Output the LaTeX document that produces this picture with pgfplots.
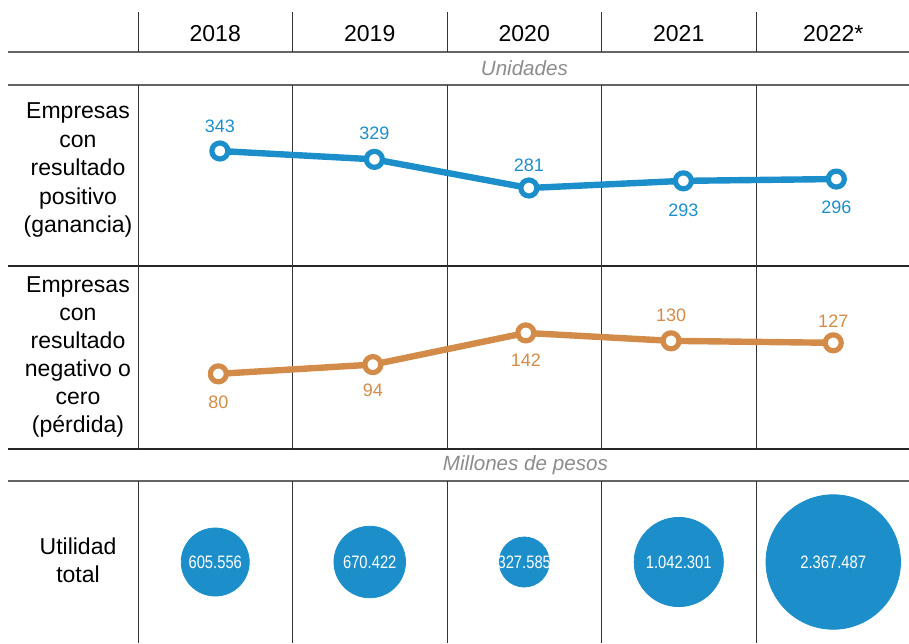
\documentclass[border=0pt]{standalone}
\usepackage{pgfplots}
\pgfplotsset{compat=1.18}
\usepackage{pgfplotstable}
\usepackage{fontspec}
\setmainfont{Liberation Sans}
\newfontfamily\narrowfont[FakeStretch=0.82]{Liberation Sans}
\definecolor{cblue}{RGB}{28,143,202}
\definecolor{corange}{RGB}{210,139,72}
\definecolor{cgray}{RGB}{140,140,140}
\definecolor{lgray}{RGB}{100,100,100}

\pgfplotstableread{
x y sh
0.03 343 12.5
1.03 329 13
2.03 281 11.5
3.03 293 -14.5
4.02 296 -14
}\postab

\pgfplotstableread{
x y sh
0.02 80 -14
1.02 94 -13
2.01 142 -13.5
2.95 130 13
4.00 127 11
}\negtab

\pgfplotstableread{
x y v lab
0 0.5 605.556 605.556
1 0.5 670.422 670.422
2 0.5 327.585 327.585
3 0.5 1042.301 1.042.301
4 0.5 2367.487 2.367.487
}\bubtab

\begin{document}
\begin{tikzpicture}
% ---- table grid ----
\draw[lgray, line width=0.75pt] (4pt,-26pt) -- (454.5pt,-26pt);
\draw[lgray, line width=0.6pt] (4pt,-42.5pt) -- (454.5pt,-42.5pt);
\draw[black!85, line width=0.6pt] (4pt,-133pt) -- (454.5pt,-133pt);
\draw[black!85, line width=0.6pt] (4pt,-224.5pt) -- (454.5pt,-224.5pt);
\draw[lgray, line width=0.6pt] (4pt,-240.5pt) -- (454.5pt,-240.5pt);
\foreach \xx in {69,146.25,223.5,300.75,378}{
  \draw[black!80, line width=0.5pt] (\xx pt,-6pt) -- (\xx pt,-26pt);
  \draw[black!80, line width=0.5pt] (\xx pt,-42.5pt) -- (\xx pt,-224.5pt);
  \draw[black!80, line width=0.5pt] (\xx pt,-240.5pt) -- (\xx pt,-321.5pt);
}
% ---- row texts ----
\node[text=cgray, font=\itshape\fontsize{10.3}{12}\selectfont] at (262.2pt,-34pt) {Unidades};
\node[text=cgray, font=\itshape\fontsize{10.3}{12}\selectfont] at (262.7pt,-232.5pt) {Millones de pesos};
\node[align=center, font=\fontsize{11.5}{14.25}\selectfont] at (39pt,-85pt) {Empresas\\con\\resultado\\positivo\\(ganancia)};
\node[align=center, font=\fontsize{11.5}{14}\selectfont] at (39pt,-178.5pt) {Empresas\\con\\resultado\\negativo o\\cero\\(pérdida)};
\node[align=center, font=\fontsize{11.5}{14}\selectfont] at (39pt,-280pt) {Utilidad\\total};

% ---- positive row ----
\begin{axis}[
  at={(69pt,-133pt)}, anchor=south west,
  scale only axis, width=386.25pt, height=90.5pt,
  xmin=-0.5, xmax=4.5, ymin=150.3, ymax=453.6,
  axis line style={draw=none}, major tick length=0pt,
  ytick=\empty,
  xtick={0,1,2,3,4}, xticklabels={2018,2019,2020,2021,{2022*}},
  xticklabel pos=upper,
  xticklabel style={anchor=center, yshift=25.5pt, font=\fontsize{11.5}{14}\selectfont},
  clip=false,
  /pgf/number format/assume math mode=true,
]
\addplot[cblue, line width=3.2pt, line join=round, mark=*, mark size=4pt,
  mark options={fill=white, draw=cblue, line width=2.6pt},
  nodes near coords,
  visualization depends on={\thisrow{sh} \as \sh},
  every node near coord/.append style={anchor=center, yshift=\sh pt, text=cblue, font=\fontsize{9}{10}\selectfont}]
  table[x=x, y=y]{\postab};
\end{axis}

% ---- negative row ----
\begin{axis}[
  at={(69pt,-224.5pt)}, anchor=south west,
  scale only axis, width=386.25pt, height=91.5pt,
  xmin=-0.5, xmax=4.5, ymin=-33.9, ymax=243.4,
  hide axis, clip=false,
  /pgf/number format/assume math mode=true,
]
\addplot[corange, line width=3.2pt, line join=round, mark=*, mark size=4pt,
  mark options={fill=white, draw=corange, line width=2.6pt},
  nodes near coords,
  visualization depends on={\thisrow{sh} \as \sh},
  every node near coord/.append style={anchor=center, yshift=\sh pt, text=corange, font=\fontsize{9}{10}\selectfont}]
  table[x=x, y=y]{\negtab};
\end{axis}

% ---- bubbles ----
\begin{axis}[
  at={(69pt,-321.5pt)}, anchor=south west,
  scale only axis, width=386.25pt, height=81pt,
  xmin=-0.5, xmax=4.5, ymin=0, ymax=1,
  hide axis, clip=false,
]
\addplot[scatter, only marks, mark=*,
  scatter/use mapped color={draw=cblue, fill=cblue},
  visualization depends on={0.691*sqrt(\thisrow{v}) \as \rad},
  scatter/@pre marker code/.append style={/tikz/mark size=\rad pt}]
  table[x=x, y=y]{\bubtab};
\addplot[draw=none, mark=none, nodes near coords, point meta=explicit symbolic,
  every node near coord/.append style={anchor=center, text=white, font=\narrowfont\fontsize{9}{10}\selectfont}]
  table[x=x, y=y, meta=lab]{\bubtab};
\end{axis}
\pgfresetboundingbox
\useasboundingbox (0,0) rectangle (454.5pt,-321.5pt);
\end{tikzpicture}
\end{document}
